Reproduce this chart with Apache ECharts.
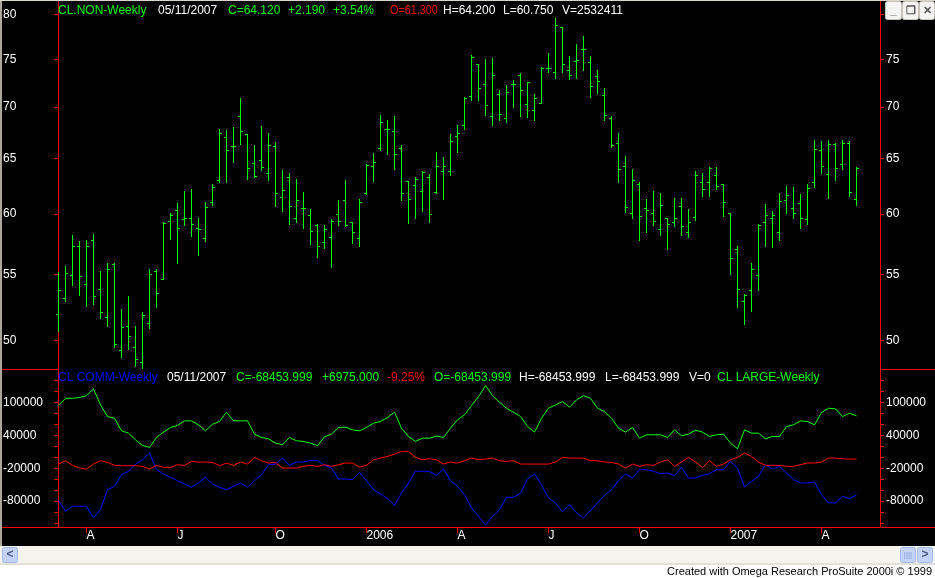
<!DOCTYPE html>
<html><head><meta charset="utf-8">
<script src="https://cdn.jsdelivr.net/npm/echarts@6.0.0/dist/echarts.min.js"></script>
<style>html,body{margin:0;padding:0;background:#fff;overflow:hidden;} #c{width:935px;height:578px;}</style>
</head><body><div id="c"></div>
<script>
// ---- Weekly OHLC, CL.NON (crude oil), 2005-03-04 .. 2007-05-11 ----
const opens = [51.97,53.18,54.92,57.32,54.24,57.81,53.86,51.74,55.85,49.31,51.06,49.52,48.49,51.29,55.25,54.62,59.39,60.32,59.58,59.63,58.81,57.98,61.04,63.03,67.06,66.18,69.10,67.35,64.60,64.84,63.69,66.18,61.50,63.30,59.63,60.50,59.88,59.08,57.65,58.06,59.99,61.23,59.28,57.92,61.86,64.26,65.99,67.87,67.64,65.99,62.94,62.52,62.02,63.30,61.89,63.87,63.87,67.19,68.26,71.16,74.47,72.42,69.10,71.37,68.87,72.38,73.36,70.32,69.72,70.46,74.12,73.64,78.54,73.85,74.81,76.12,74.70,73.19,71.27,68.91,66.48,64.30,60.05,62.67,60.50,60.05,58.72,59.63,59.30,60.68,58.48,59.72,62.85,62.85,63.48,62.67,60.05,57.07,52.95,53.79,54.92,59.30,59.63,58.48,61.23,60.50,60.95,59.55,62.85,65.79,63.57,66.38,64.48,66.48,61.30];
const highs = [55.16,55.69,58.17,57.67,57.76,58.25,55.27,55.94,55.91,52.30,53.28,51.01,52.07,55.44,55.44,59.33,60.08,60.95,61.98,62.16,59.66,61.07,62.61,67.87,67.77,68.06,70.90,67.38,66.31,68.16,67.48,66.61,63.96,63.69,63.06,61.89,60.44,59.16,59.05,59.58,61.26,62.97,59.33,61.35,64.48,65.50,69.23,68.75,69.14,66.31,62.94,63.30,63.84,63.57,65.60,65.18,67.38,68.26,71.02,75.48,74.51,75.03,75.15,71.72,72.31,72.83,73.53,72.63,71.34,74.19,75.67,79.58,78.58,75.37,76.64,77.61,75.37,73.88,71.99,69.14,67.48,65.24,64.05,62.85,61.35,61.98,61.80,59.63,61.44,61.44,60.44,63.87,63.69,64.20,64.20,62.67,60.05,57.32,53.48,55.91,59.14,60.86,60.23,61.86,62.49,62.40,61.77,62.67,66.77,66.67,66.77,66.48,66.77,66.67,64.20];
const lows = [50.65,52.90,54.19,53.36,52.55,52.70,51.64,51.03,49.50,48.81,49.36,48.19,48.06,50.88,52.47,54.60,57.84,55.88,59.03,58.12,56.54,57.70,60.80,62.82,62.82,64.63,66.35,63.09,63.30,63.90,63.00,60.65,60.29,59.11,59.27,58.78,57.45,56.38,57.12,55.60,59.03,58.94,57.56,57.26,61.77,62.91,65.79,65.47,63.99,61.20,59.22,59.69,60.29,59.27,61.86,61.32,63.45,65.57,67.81,70.74,70.74,69.23,68.26,68.72,68.50,70.01,69.14,68.97,68.75,70.39,73.64,72.97,73.60,72.87,72.97,73.88,70.99,71.44,68.68,66.05,62.82,60.20,59.61,57.78,58.45,59.03,58.20,57.04,58.94,58.20,58.03,59.52,61.56,61.56,62.22,59.85,55.05,52.47,51.18,52.17,53.74,57.29,57.21,57.78,60.11,59.61,58.78,59.11,62.37,63.66,61.38,63.00,64.02,61.58,60.75];
const closes = [53.79,55.08,57.32,54.85,57.32,53.33,52.12,55.41,49.72,50.98,50.30,48.70,51.89,55.00,53.56,59.22,59.88,58.83,59.63,59.14,58.72,60.59,62.40,67.45,65.79,66.18,67.64,64.11,63.36,64.21,66.31,61.86,62.07,60.68,61.23,60.56,58.56,57.26,58.72,59.36,59.36,59.03,58.48,61.04,64.42,64.66,68.55,67.87,65.41,61.86,61.32,63.06,63.75,59.99,64.26,64.32,66.70,67.45,70.92,75.26,71.96,70.22,73.36,69.30,71.51,72.38,71.79,72.63,70.92,74.06,74.12,78.84,74.51,73.36,74.88,76.12,72.17,72.70,69.20,66.28,64.02,60.59,62.97,59.80,60.32,59.39,60.77,59.14,59.63,58.97,59.30,63.48,62.22,64.11,62.49,61.04,56.32,53.86,53.41,55.41,59.06,59.88,59.88,61.14,61.68,60.05,59.63,62.31,65.89,64.30,66.38,64.11,66.48,61.93,64.12];
const lastVolume = 2532411;
const lastDate = '05/11/2007';

// ---- Weekly Commitments of Traders net positions ----
const cotComm = [-78900,-98300,-89200,-89200,-89200,-110500,-95300,-58900,-52800,-31600,-25500,-12200,-4300,7800,-22500,-30400,-36400,-42500,-48600,-54700,-46800,-36400,-48600,-54700,-58900,-52800,-46800,-54700,-42500,-31600,-13400,-12200,-1300,-14600,-8500,-8500,-5500,-5500,-14600,-19500,-39500,-39500,-40700,-27300,-42500,-58900,-66800,-75300,-87400,-65000,-46800,-25500,-25500,-25500,-32800,-21300,-42500,-52800,-68000,-92300,-107400,-123800,-107400,-95300,-72900,-72900,-65000,-39500,-30400,-49800,-74100,-83200,-99500,-86200,-101400,-110500,-97100,-83200,-69200,-58900,-42500,-30400,-37700,-22500,-22500,-25500,-29800,-28600,-33400,-18200,-37700,-37700,-32800,-29800,-22500,-22500,-7300,-19500,-54000,-43700,-34600,-13400,-21300,-16400,-28600,-40700,-46800,-46800,-44900,-68000,-83200,-83200,-71000,-75428.999,-68453.999];
const cotLarge = [94600,107900,107900,109200,112800,124900,95800,74600,71500,48500,44200,32100,21800,18200,36400,46100,54600,58200,66700,66700,59400,48500,60600,65500,82500,66700,66700,66700,42400,36400,33900,26000,23000,36400,30300,29100,26000,21200,37600,42400,54600,55200,50300,48500,54600,62400,65500,72800,82500,53300,38200,29100,35100,35100,38800,36400,53300,68500,77600,94600,111000,131000,112800,100700,89700,82500,74600,56400,46100,71500,89700,95800,101900,91600,104900,112800,107900,89700,83700,71500,53300,46100,54600,35100,41200,41200,41200,36400,50300,39400,42400,49700,46100,38200,41200,42400,26000,15700,50300,44200,44200,33900,38200,38200,56400,59400,66700,65500,59400,81900,89700,88500,74600,80600,75800];
const cotSmall = [-12200,-6100,-14600,-19500,-21300,-12200,-6100,-9100,-14600,-15200,-15200,-15200,-16400,-21300,-14600,-18200,-18200,-13400,-14600,-7300,-8500,-8500,-9100,-15200,-10400,-14600,-8500,-12200,0,-6100,-10400,-9100,-19500,-19500,-19500,-16400,-14600,-16400,-13400,-16400,-13400,-10400,-10400,-17600,-14600,-4300,-1300,1800,6000,10900,10900,0,-4300,-2500,-4300,-12200,-8500,-10400,-6100,-1300,-4300,-3100,-1300,-6100,-7300,-6100,-12200,-12200,-12200,-12200,-12200,-8500,0,-1300,-1300,-1300,-6100,-6100,-8500,-9100,-12200,-19500,-12200,-16400,-13400,-14600,-8500,-4300,-16400,-8500,0,-8500,-18200,-6100,-16400,-12200,-4300,0,7800,1800,-8500,-14600,-14600,-14600,-16400,-16400,-13400,-10400,-10400,-8500,-1300,-1300,-2500,-3100,-3100];
const cotLastVolume = 0;

// ---- axis ticks ----
const monthTickWeeks = [4,17,31,44,57,70,83,96,109];
const monthTickLabels = ['A','J','O','2006','A','J','O','2007','A'];
const priceTicks = [50,55,60,65,70,75,80];
const cotTicks = [-120000,-100000,-80000,-60000,-40000,-20000,0,20000,40000,60000,80000,100000,120000,140000,160000];
const cotLabelTicks = [-80000,-20000,40000,100000];

// ---- build ----
const n = closes.length;
const weeks = closes.map((_, i) => i);
const ohlcData = weeks.map(i => [i, opens[i], highs[i], lows[i], closes[i]]);
const pair = arr => weeks.map(i => [i, arr[i]]);

const XMIN = -0.357, XMAX = 117.357;
const PMIN = 47.97, PMAX = 81.59;
const CMIN = -127136, CMAX = 161334;
const RED = '#ff0000', GREEN = '#00ff00', WHITE = '#ffffff', BLUE = '#0000ff';
const FONT = '"Liberation Sans", Arial, sans-serif';

function renderOHLC(params, api) {
  const i = api.value(0);
  const pO = api.coord([i, api.value(1)]);
  const pH = api.coord([i, api.value(2)]);
  const pL = api.coord([i, api.value(3)]);
  const pC = api.coord([i, api.value(4)]);
  const x = Math.floor(pH[0]);
  const yH = Math.round(pH[1]), yL = Math.round(pL[1]);
  const st = { fill: GREEN };
  return { type: 'group', children: [
    { type: 'rect', shape: { x: x, y: yH, width: 1, height: Math.max(1, yL - yH + 1) }, style: st },
    { type: 'rect', shape: { x: x - 2, y: Math.round(pO[1]), width: 2, height: 1 }, style: st },
    { type: 'rect', shape: { x: x + 1, y: Math.round(pC[1]), width: 2, height: 1 }, style: st }
  ]};
}

const fmt3 = v => v.toFixed(3);
const sgn = (v, d) => (v >= 0 ? '+' : '') + v.toFixed(d);
const pChg = closes[n-1] - closes[n-2];
const cChg = cotComm[n-1] - cotComm[n-2];

function txt(x, y, text, color, sx) {
  return { type: 'text', x: x, y: y, z: 100, silent: true, scaleX: sx || 1,
    style: { text: text, fill: color, font: '12px ' + FONT, verticalAlign: 'middle', align: 'left' } };
}

const header1 = [
  txt(58, 11, 'CL.NON-Weekly', GREEN),
  txt(158, 11, lastDate, WHITE),
  txt(228, 11, 'C=' + fmt3(closes[n-1]), GREEN),
  txt(288, 11, sgn(pChg, 3), GREEN),
  txt(333, 11, sgn(pChg / closes[n-2] * 100, 2) + '%', GREEN),
  txt(390, 11, 'O=' + fmt3(opens[n-1]), RED, 0.9),
  txt(443, 11, 'H=' + fmt3(highs[n-1]), WHITE),
  txt(503, 11, 'L=' + fmt3(lows[n-1]), WHITE),
  txt(562, 11, 'V=' + lastVolume, WHITE)
];
const header2 = [
  txt(58, 378, 'CL COMM-Weekly', BLUE),
  txt(167, 378, lastDate, WHITE),
  txt(236, 378, 'C=' + fmt3(cotComm[n-1]), GREEN),
  txt(322, 378, sgn(cChg, 3), GREEN),
  txt(387, 378, sgn(cChg / cotComm[n-2] * 100, 2) + '%', RED),
  txt(434, 378, 'O=' + fmt3(cotComm[n-1]), GREEN),
  txt(519, 378, 'H=' + fmt3(cotComm[n-1]), WHITE),
  txt(605, 378, 'L=' + fmt3(cotComm[n-1]), WHITE),
  txt(689, 378, 'V=' + cotLastVolume, WHITE),
  txt(717, 378, 'CL LARGE-Weekly', GREEN)
];

function hline(x1, x2, y, color) {
  return { type: 'line', z: 50, silent: true, shape: { x1: x1, y1: y, x2: x2, y2: y }, style: { stroke: color, lineWidth: 1 } };
}
function btn(x, w, glyph, fill, stroke, glyphColor) {
  return [
    { type: 'rect', z: 60, silent: true, shape: { x: x + 0.5, y: 1.5, width: w, height: 18, r: 2 }, style: { fill: fill, stroke: stroke, lineWidth: 1 } },
    { type: 'text', z: 61, silent: true, x: x + w / 2 + 0.5, y: 11, style: { text: glyph, fill: glyphColor, font: 'bold 11px ' + FONT, align: 'center', verticalAlign: 'middle' } }
  ];
}
function sbtn(x, glyph) {
  return [
    { type: 'rect', z: 60, silent: true, shape: { x: x + 0.5, y: 547.5, width: 15, height: 15, r: 2 }, style: { fill: '#c3d3fa', stroke: '#a4b8e6', lineWidth: 1 } },
    { type: 'text', z: 61, silent: true, x: x + 8, y: 555, style: { text: glyph, fill: '#4a5d86', font: 'bold 12px ' + FONT, align: 'center', verticalAlign: 'middle' } }
  ];
}

const graphics = [
  // bottom strip: scrollbar + status area
  { type: 'rect', z: 1, silent: true, shape: { x: 0, y: 546, width: 935, height: 17 }, style: { fill: '#f4f3ee' } },
  { type: 'rect', z: 1, silent: true, shape: { x: 0, y: 563, width: 935, height: 2 }, style: { fill: '#e2e0d8' } },
  { type: 'rect', z: 1, silent: true, shape: { x: 0, y: 565, width: 935, height: 13 }, style: { fill: '#ffffff' } },
  // window frame left edge
  { type: 'rect', z: 50, silent: true, shape: { x: 0, y: 0, width: 2, height: 546 }, style: { fill: '#a9a79e' } },
  { type: 'rect', z: 50, silent: true, shape: { x: 0, y: 0, width: 935, height: 1 }, style: { fill: '#d8d6cc' } },
  // red frame segments around axis columns
  hline(2, 56, 369.5, RED),
  hline(881, 935, 369.5, RED),
  hline(2, 56, 527.5, RED),
  hline(881, 935, 527.5, RED),
  ...sbtn(2, '<'),
  { type: 'rect', z: 60, silent: true, shape: { x: 900.5, y: 547.5, width: 15, height: 15, r: 2 }, style: { fill: '#c3d3fa', stroke: '#a4b8e6', lineWidth: 1 } },
  { type: 'text', z: 61, silent: true, x: 908, y: 555, style: { text: '||||', fill: '#8aa0d0', font: '8px ' + FONT, align: 'center', verticalAlign: 'middle' } },
  ...sbtn(917, '>'),
  { type: 'text', z: 61, silent: true, x: 932, y: 572, style: { text: 'Created with Omega Research ProSuite 2000i \u00a9 1999', fill: '#000000', font: '11px ' + FONT, align: 'right', verticalAlign: 'middle' } },
  // window control buttons
  ...btn(885, 16, '_', '#f4f4f2', '#c8c6bc', '#555555'),
  ...btn(902, 16, '\u2750', '#f4f4f2', '#c8c6bc', '#555555'),
  ...btn(919, 15, '\u2715', '#f4f4f2', '#c8c6bc', '#555555'),
  ...header1,
  ...header2
];

const priceAxisBase = {
  gridIndex: 0, type: 'log', logBase: 10, min: PMIN, max: PMAX,
  axisLine: { show: true, lineStyle: { color: RED, width: 1 } },
  axisTick: { show: true, length: 4, lineStyle: { color: RED }, customValues: priceTicks },
  axisLabel: { show: true, color: WHITE, fontSize: 12, fontFamily: FONT, align: 'left',
    customValues: priceTicks, formatter: v => String(Math.round(v)) },
  splitLine: { show: false }, minorTick: { show: false }
};
const cotAxisBase = {
  gridIndex: 1, type: 'value', min: CMIN, max: CMAX,
  axisLine: { show: true, lineStyle: { color: RED, width: 1 } },
  axisTick: { show: true, length: 4, lineStyle: { color: RED }, customValues: cotTicks },
  axisLabel: { show: true, color: WHITE, fontSize: 12, fontFamily: FONT, align: 'left',
    customValues: cotLabelTicks, formatter: v => String(Math.round(v)) },
  splitLine: { show: false }
};

const option = {
  backgroundColor: '#000000',
  animation: false,
  grid: [
    { left: 56, width: 824, top: 1, height: 368 },
    { left: 56, width: 824, top: 369, height: 158 }
  ],
  xAxis: [
    { gridIndex: 0, type: 'value', min: XMIN, max: XMAX, show: false },
    { gridIndex: 1, type: 'value', min: XMIN, max: XMAX,
      axisLine: { show: true, onZero: false, lineStyle: { color: RED, width: 1 } },
      axisTick: { show: true, length: 6, lineStyle: { color: RED }, customValues: monthTickWeeks },
      axisLabel: { show: true, color: WHITE, fontSize: 12, fontFamily: FONT, align: 'left', margin: 3,
        customValues: monthTickWeeks,
        formatter: v => monthTickLabels[monthTickWeeks.indexOf(Math.round(v))] },
      splitLine: { show: false } }
  ],
  yAxis: [
    Object.assign({}, priceAxisBase, { position: 'left', axisLabel: Object.assign({}, priceAxisBase.axisLabel, { margin: 53 }) }),
    Object.assign({}, priceAxisBase, { position: 'right', axisLabel: Object.assign({}, priceAxisBase.axisLabel, { margin: 6 }) }),
    Object.assign({}, cotAxisBase, { position: 'left', axisLabel: Object.assign({}, cotAxisBase.axisLabel, { margin: 53 }) }),
    Object.assign({}, cotAxisBase, { position: 'right', axisLabel: Object.assign({}, cotAxisBase.axisLabel, { margin: 6 }) })
  ],
  series: [
    { name: 'CL.NON-Weekly', type: 'custom', xAxisIndex: 0, yAxisIndex: 0, clip: true,
      renderItem: renderOHLC, encode: { x: 0, y: [1, 2, 3, 4] }, data: ohlcData, silent: true },
    { name: 'CL COMM-Weekly', type: 'line', xAxisIndex: 1, yAxisIndex: 2, data: pair(cotComm), showSymbol: false,
      lineStyle: { color: BLUE, width: 1 }, itemStyle: { color: BLUE }, silent: true, z: 2 },
    { name: 'CL LARGE-Weekly', type: 'line', xAxisIndex: 1, yAxisIndex: 2, data: pair(cotLarge), showSymbol: false,
      lineStyle: { color: GREEN, width: 1 }, itemStyle: { color: GREEN }, silent: true, z: 3 },
    { name: 'CL SMALL-Weekly', type: 'line', xAxisIndex: 1, yAxisIndex: 2, data: pair(cotSmall), showSymbol: false,
      lineStyle: { color: RED, width: 1 }, itemStyle: { color: RED }, silent: true, z: 4 }
  ],
  graphic: graphics
};

const chart = echarts.init(document.getElementById('c'), null, { renderer: 'canvas' });
chart.setOption(option);
</script>
</body></html>
